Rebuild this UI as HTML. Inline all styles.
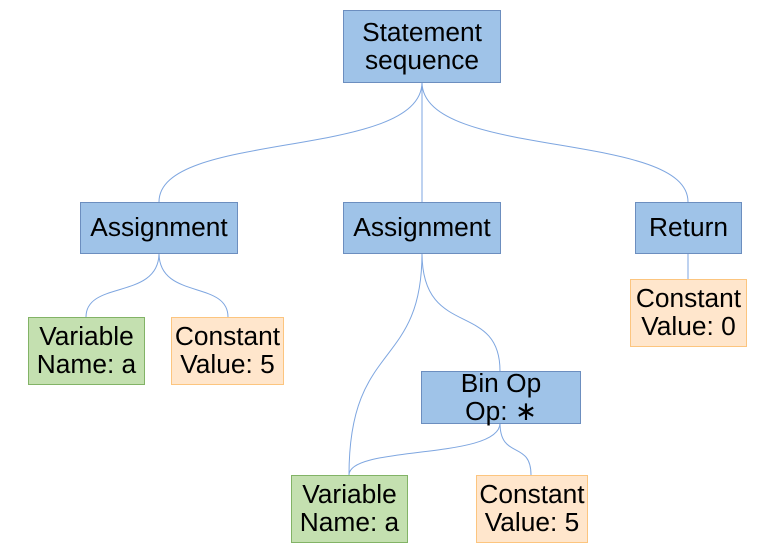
<!DOCTYPE html>
<html><head><meta charset="utf-8"><style>
body{margin:0;width:768px;height:551px;background:#fff;position:relative;overflow:hidden;font-family:"Liberation Sans",sans-serif}
.b{position:absolute;box-sizing:border-box;display:flex;align-items:center;justify-content:center;text-align:center;font-size:26.3px;line-height:28px;color:#000;white-space:nowrap;padding-bottom:2px}
.bl{background:#9fc3e8;border:1.5px solid #6c8ebf}
.gr{background:#c4e0b0;border:1.5px solid #82b366}
.or{background:#ffe6cc;border:1.5px solid #fcc57f}
svg{position:absolute;left:0;top:0}
</style></head><body>
<svg width="768" height="551"><g fill="none" stroke="#7ea6e0" stroke-width="1">
<path d="M422 82 C422 160 159 130 159 202"/>
<path d="M422 82 L422 202"/>
<path d="M422 82 C422 160 688 130 688 202"/>
<path d="M159 253 C159 300 86 280 86 317"/>
<path d="M159 253 C159 300 228 280 228 317"/>
<path d="M422 253 C422 370 349 340 349 475"/>
<path d="M422 253 C422 340 500 300 500 371"/>
<path d="M500 423 C500 460 349 445 349 475"/>
<path d="M500 423 C500 460 531 440 531 475"/>
<path d="M688 253 L688 279"/>
</g></svg>
<div class="b bl" style="left:343px;top:10px;width:158px;height:73px">Statement<br>sequence</div>
<div class="b bl" style="left:80px;top:202px;width:158px;height:52px">Assignment</div>
<div class="b bl" style="left:343px;top:202px;width:158px;height:52px">Assignment</div>
<div class="b bl" style="left:635px;top:202px;width:107px;height:52px">Return</div>
<div class="b gr" style="left:28px;top:317px;width:117px;height:68px">Variable<br>Name: a</div>
<div class="b or" style="left:171px;top:317px;width:113px;height:68px">Constant<br>Value: 5</div>
<div class="b or" style="left:630px;top:279px;width:117px;height:68px">Constant<br>Value: 0</div>
<div class="b bl" style="left:421px;top:371px;width:160px;height:53px">Bin Op<br>Op: ∗</div>
<div class="b gr" style="left:291px;top:475px;width:117px;height:68px">Variable<br>Name: a</div>
<div class="b or" style="left:476px;top:475px;width:112px;height:68px">Constant<br>Value: 5</div>
</body></html>
